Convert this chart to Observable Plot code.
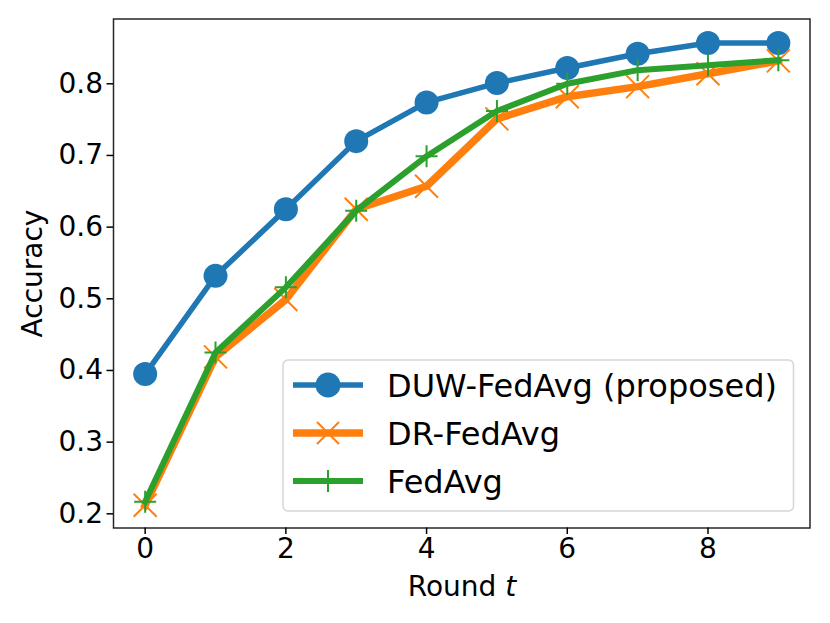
<!DOCTYPE html>
<html>
<head>
<meta charset="utf-8">
<script src="https://cdn.jsdelivr.net/npm/d3@7"></script>
<script src="https://cdn.jsdelivr.net/npm/@observablehq/plot@0.6"></script>
<style>
  html, body { margin: 0; padding: 0; background: white; }
  #chart { width: 830px; height: 623px; }
</style>
</head>
<body>
<div id="chart"></div>
<script>
// ---- data ----
const rounds = [0, 1, 2, 3, 4, 5, 6, 7, 8, 9];
const duwFedAvg = [0.395, 0.532, 0.625, 0.720, 0.774, 0.801, 0.822, 0.842, 0.857, 0.857];
const drFedAvg  = [0.212, 0.419, 0.499, 0.625, 0.657, 0.751, 0.782, 0.796, 0.814, 0.832];
const fedAvg    = [0.217, 0.425, 0.516, 0.623, 0.699, 0.762, 0.800, 0.819, 0.826, 0.833];
const seriesNames = ["DUW-FedAvg (proposed)", "DR-FedAvg", "FedAvg"];
const seriesColors = ["#1f77b4", "#ff7f0e", "#2ca02c"];
const xTicks = [0, 2, 4, 6, 8];
const yTicks = [0.2, 0.3, 0.4, 0.5, 0.6, 0.7, 0.8];

const toRows = (vals) => rounds.map((t, i) => ({t, v: vals[i]}));
const duwRows = toRows(duwFedAvg);
const drRows = toRows(drFedAvg);
const fedRows = toRows(fedAvg);

// custom symbols where r is the half-extent
const timesSym = {draw(ctx, size) { const r = Math.sqrt(size / Math.PI); ctx.moveTo(-r, -r); ctx.lineTo(r, r); ctx.moveTo(-r, r); ctx.lineTo(r, -r); }};
const plusSym = {draw(ctx, size) { const r = Math.sqrt(size / Math.PI); ctx.moveTo(-r, 0); ctx.lineTo(r, 0); ctx.moveTo(0, -r); ctx.lineTo(0, r); }};

const FONT = "DejaVu Sans, Liberation Sans, sans-serif";

const plot = Plot.plot({
  width: 830,
  height: 623,
  marginLeft: 113,
  marginRight: 20.5,
  marginTop: 18.5,
  marginBottom: 95.5,
  style: {fontFamily: FONT, fontSize: "28px", background: "white", color: "black", overflow: "visible"},
  x: {domain: [-0.45, 9.45]},
  y: {domain: [0.1802, 0.8904]},
  marks: [
    Plot.axisX(xTicks, {tickSize: 6.5, tickPadding: 4, fontSize: 28, label: null, strokeWidth: 1.5, stroke: "black"}),
    Plot.axisY(yTicks, {tickSize: 6.5, tickPadding: 4, fontSize: 28, label: null, strokeWidth: 1.5, stroke: "black", tickFormat: d => d.toFixed(1)}),
    Plot.line(duwRows, {x: "t", y: "v", stroke: seriesColors[0], strokeWidth: 5.5, strokeLinejoin: "round", strokeLinecap: "square"}),
    Plot.dot(duwRows, {x: "t", y: "v", r: 12, fill: seriesColors[0], stroke: "none", symbol: "circle"}),
    Plot.line(drRows, {x: "t", y: "v", stroke: seriesColors[1], strokeWidth: 7.5, strokeLinejoin: "round", strokeLinecap: "square"}),
    Plot.dot(drRows, {x: "t", y: "v", r: 11.5, stroke: seriesColors[1], strokeWidth: 2, fill: "none", symbol: timesSym}),
    Plot.line(fedRows, {x: "t", y: "v", stroke: seriesColors[2], strokeWidth: 6, strokeLinejoin: "round", strokeLinecap: "square"}),
    Plot.dot(fedRows, {x: "t", y: "v", r: 11, stroke: seriesColors[2], strokeWidth: 2, fill: "none", symbol: plusSym}),
    Plot.frame({stroke: "black", strokeWidth: 1.5, strokeOpacity: 0.85}),
    Plot.text(["Accuracy"], {frameAnchor: "left", textAnchor: "middle", dx: -80, rotate: -90, fontSize: 28, fill: "black"})
  ]
});

const svg = d3.select(plot);

// x axis label with italic t
const xl = svg.append("text")
  .attr("x", 462).attr("y", 596)
  .attr("text-anchor", "middle")
  .attr("font-family", FONT)
  .attr("font-size", 28)
  .attr("fill", "black");
xl.append("tspan").text("Round ");
xl.append("tspan").attr("font-style", "italic").text("t");

// legend
const lg = svg.append("g").attr("font-family", FONT).attr("text-anchor", "start");
lg.append("rect")
  .attr("x", 283).attr("y", 360).attr("width", 510.5).attr("height", 151)
  .attr("rx", 5).attr("ry", 5)
  .attr("fill", "white").attr("fill-opacity", 0.8)
  .attr("stroke", "#d6d6d6").attr("stroke-width", 1.5);
const rowY = [385, 433, 481];
const lineW = [5.5, 7.5, 6];
seriesNames.forEach((name, i) => {
  const y = rowY[i];
  lg.append("line").attr("x1", 293).attr("x2", 363).attr("y1", y).attr("y2", y)
    .attr("stroke", seriesColors[i]).attr("stroke-width", lineW[i]);
  if (i === 0) {
    lg.append("circle").attr("cx", 328).attr("cy", y).attr("r", 12.5).attr("fill", seriesColors[i]);
  } else if (i === 1) {
    lg.append("path").attr("d", `M${317},${y-11}L${339},${y+11}M${317},${y+11}L${339},${y-11}`)
      .attr("stroke", seriesColors[i]).attr("stroke-width", 2).attr("fill", "none");
  } else {
    lg.append("path").attr("d", `M${317},${y}L${339},${y}M${328},${y-11}L${328},${y+11}`)
      .attr("stroke", seriesColors[i]).attr("stroke-width", 2).attr("fill", "none");
  }
  lg.append("text").attr("x", 387).attr("y", y).attr("dy", "0.36em")
    .attr("text-anchor", "start")
    .attr("font-size", 32).attr("fill", "black").text(name);
});

document.getElementById("chart").appendChild(plot);
</script>
</body>
</html>
